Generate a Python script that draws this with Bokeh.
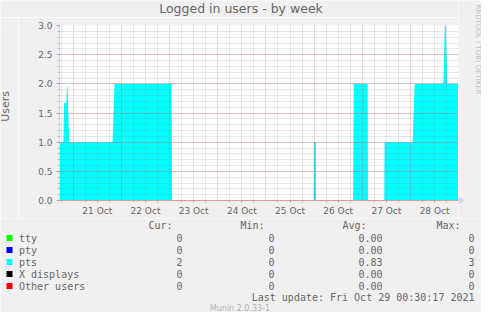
import math
import pandas as pd
from bokeh.plotting import figure
from bokeh.layouts import column, row
from bokeh.models import (ColumnDataSource, Range1d, FixedTicker, SingleIntervalTicker,
                          Grid, DatetimeTickFormatter, PrintfTickFormatter)
from bokeh.core.properties import value
from bokeh.embed import file_html
from bokeh.resources import INLINE

# ---------------- data ----------------
title_text = "Logged in users - by week"
y_label = "Users"
watermark = "RRDTOOL / TOBI OETIKER"
footer = "Munin 2.0.33-1"
last_update = "Last update: Fri Oct 29 00:30:17 2021"

x_start = "2021-10-20 17:10"
x_end = "2021-10-28 23:55"

pts_times = [
    "2021-10-20 17:10", "2021-10-20 19:10", "2021-10-20 19:25", "2021-10-20 20:35",
    "2021-10-20 20:50", "2021-10-20 21:10", "2021-10-20 22:00", "2021-10-21 19:35",
    "2021-10-21 20:35", "2021-10-23 01:00", "2021-10-23 01:15", "2021-10-25 23:45",
    "2021-10-25 23:50", "2021-10-26 00:50", "2021-10-26 00:55", "2021-10-26 19:25",
    "2021-10-26 19:45", "2021-10-27 02:40", "2021-10-27 02:50", "2021-10-27 10:55",
    "2021-10-27 11:05", "2021-10-28 01:05", "2021-10-28 02:05", "2021-10-28 16:25",
    "2021-10-28 17:05", "2021-10-28 17:35", "2021-10-28 18:20", "2021-10-28 23:55",
]
pts_values = [
    1.0, 1.0, 1.67, 1.67,
    1.95, 1.95, 1.0, 1.0,
    2.0, 2.0, 0.0, 0.0,
    1.0, 1.0, 0.0, 0.0,
    2.0, 2.0, 0.0, 0.0,
    1.0, 1.0, 2.0, 2.0,
    3.0, 3.0, 2.0, 2.0,
]

label_days = ["2021-10-21", "2021-10-22", "2021-10-23", "2021-10-24",
              "2021-10-25", "2021-10-26", "2021-10-27", "2021-10-28"]

series_names = ["tty", "pty", "pts", "X displays", "Other users"]
series_colors = ["#00ff00", "#0000ff", "#00ffff", "#000000", "#ff0000"]
cur_vals = ["0", "0", "2", "0", "0"]
min_vals = ["0", "0", "0", "0", "0"]
avg_vals = ["0.00", "0.00", "0.83", "0.00", "0.00"]
max_vals = ["0", "0", "3", "0", "0"]
col_headers = ["Cur:", "Min:", "Avg:", "Max:"]

# ---------------- style ----------------
BG = "#f0f0f0"
FONT = "#666666"
MINOR = "#8f8f8f"
MAJOR = "#de4f4f"
AXIS = "#cfd6f8"
SANS = "DejaVu Sans"
MONO = "DejaVu Sans Mono"


def ms(s):
    return pd.Timestamp(s).value / 1e6


def strip(w, h):
    f = figure(width=w, height=h, output_backend="svg", toolbar_location=None,
               x_axis_type=None, y_axis_type=None,
               x_range=Range1d(0, w), y_range=Range1d(h, 0), min_border=0)
    f.background_fill_color = BG
    f.border_fill_color = BG
    f.outline_line_color = None
    return f


def txt(f, x, y, s, size, font=SANS, color=FONT, align="left", angle=0.0):
    f.text(x=[x], y=[y], text=[s], text_font=value(font), text_font_size=value(size),
           text_color=color, text_align=align, text_baseline="middle", angle=angle)


# ---------------- main chart ----------------
src = ColumnDataSource(dict(t=pd.to_datetime(pts_times), v=pts_values))

p = figure(width=440, height=201, output_backend="svg", toolbar_location=None,
           x_axis_type="datetime",
           x_range=Range1d(pd.Timestamp(x_start), pd.Timestamp(x_end)),
           y_range=Range1d(0, 3.0),
           min_border_left=41, min_border_right=0, min_border_top=8, min_border_bottom=18)
p.background_fill_color = "#ffffff"
p.border_fill_color = BG
p.outline_line_color = None

p.varea(x="t", y1=0, y2="v", source=src, fill_color="#00ffff", fill_alpha=1.0)

yt = SingleIntervalTicker(interval=0.5, num_minor_ticks=5)
p.yaxis.ticker = yt
p.yaxis.formatter = PrintfTickFormatter(format="%.1f")
p.yaxis.axis_line_color = AXIS
p.yaxis.major_tick_line_color = MAJOR
p.yaxis.major_tick_line_alpha = 0.5
p.yaxis.major_tick_in = 0
p.yaxis.major_tick_out = 3
p.yaxis.minor_tick_line_color = MINOR
p.yaxis.minor_tick_line_alpha = 0.5
p.yaxis.minor_tick_in = 0
p.yaxis.minor_tick_out = 2
p.yaxis.major_label_standoff = 4
p.yaxis.major_label_text_font = SANS
p.yaxis.major_label_text_font_size = "9px"
p.yaxis.major_label_text_color = FONT

p.ygrid.ticker = yt
p.ygrid.grid_line_color = MAJOR
p.ygrid.grid_line_alpha = 0.5
p.ygrid.grid_line_dash = "1 1"
p.ygrid.minor_grid_line_color = MINOR
p.ygrid.minor_grid_line_alpha = 0.45
p.ygrid.minor_grid_line_dash = "1 1"
p.ygrid.level = "annotation"

noon_ms = [ms(d + " 12:00") for d in label_days]
midnight_ms = [ms(d + " 00:00") for d in label_days]
six_ms = sorted(set(m + h * 3600e3 for m in midnight_ms for h in (-6, 6, 12, 18)) - set(midnight_ms))

p.xaxis.ticker = FixedTicker(ticks=noon_ms, minor_ticks=six_ms)
fmt = "%d %b"
p.xaxis.formatter = DatetimeTickFormatter(microseconds=fmt, milliseconds=fmt, seconds=fmt,
                                          minsec=fmt, minutes=fmt, hourmin=fmt, hours=fmt,
                                          days=fmt, months=fmt, years=fmt)
p.xaxis.axis_line_color = "#e49a9a"
p.xaxis.major_tick_line_color = MINOR
p.xaxis.major_tick_line_alpha = 0.5
p.xaxis.major_tick_in = 0
p.xaxis.major_tick_out = 2
p.xaxis.minor_tick_line_color = MINOR
p.xaxis.minor_tick_line_alpha = 0.5
p.xaxis.minor_tick_in = 0
p.xaxis.minor_tick_out = 2
p.xaxis.major_label_standoff = 3
p.xaxis.major_label_text_font = SANS
p.xaxis.major_label_text_font_size = "9px"
p.xaxis.major_label_text_color = FONT

p.xgrid.visible = False
xg = Grid(dimension=0, ticker=FixedTicker(ticks=midnight_ms, minor_ticks=six_ms),
          grid_line_color=MAJOR, grid_line_alpha=0.5, grid_line_dash="1 1",
          minor_grid_line_color=MINOR, minor_grid_line_alpha=0.45, minor_grid_line_dash="1 1",
          level="annotation")
p.add_layout(xg)

# ---------------- surrounding strips ----------------
title_strip = strip(458, 17)
txt(title_strip, 240.5, 7.5, title_text, "12.5px", align="center")

left_strip = strip(18, 201)
txt(left_strip, 5, 93, y_label, "11px", align="center", angle=math.pi / 2)

right_strip = strip(23, 218)
txt(right_strip, 19.5, 49, watermark, "7px", color="#c0c0c0", align="center", angle=-math.pi / 2)
# arrow head at the right end of the time axis
right_strip.patch(x=[0, 6, 0], y=[196.5, 200, 203.5], fill_color=AXIS, line_color=AXIS)

# ---------------- legend table ----------------
leg = strip(481, 94)
OX, OY = 8, 226   # reference-pixel origin of this strip

head_right = [180, 272, 374, 468]
val_right = [190, 282, 390, 482]
for hx, h in zip(head_right, col_headers):
    txt(leg, hx - OX, 233 - OY, h, "10px", font=MONO, align="right")

row_y = [245.5, 257.5, 269.5, 281.5, 293.5]
sq = ColumnDataSource(dict(
    l=[14 - OX] * len(series_names), r=[20 - OX] * len(series_names),
    t=[y - 3 - OY for y in row_y], b=[y + 3 - OY for y in row_y],
    c=series_colors))
leg.quad(left="l", right="r", top="t", bottom="b", fill_color="c", line_color=None, source=sq)
for i, name in enumerate(series_names):
    Y = row_y[i] - OY
    txt(leg, 26.5 - OX, Y, name, "10px", font=MONO)
    for vx, col in zip(val_right, (cur_vals, min_vals, avg_vals, max_vals)):
        txt(leg, vx - OX, Y, col[i], "10px", font=MONO, align="right")

txt(leg, 482 - OX, 305 - OY, last_update, "10px", font=MONO, align="right")
txt(leg, 247.5 - OX, 316 - OY, footer, "8px", color="#b4b4b4", align="center")

layout = column(row(column(title_strip, row(left_strip, p)), right_strip), leg)

open("out.html", "w").write(file_html(layout, INLINE))
